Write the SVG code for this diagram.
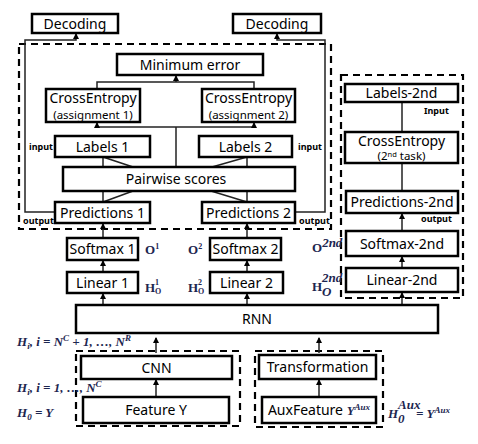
<svg xmlns="http://www.w3.org/2000/svg" width="478" height="444" viewBox="0 0 478 444">
<style>
.box{fill:#fff;stroke:#000;stroke-width:2.5}
.dash{fill:none;stroke:#000;stroke-width:2.2;stroke-dasharray:7,5}
.t{font-family:"Noto Sans","DejaVu Sans",sans-serif;font-size:14px;fill:#000;text-anchor:middle}
.s{font-family:"Noto Sans","DejaVu Sans",sans-serif;font-size:11.5px;fill:#000;text-anchor:middle}
.lbl{font-family:"Noto Sans","DejaVu Sans",sans-serif;font-size:9px;font-weight:bold;fill:#000}
.m{font-family:"Liberation Serif","DejaVu Serif",serif;font-size:13px;font-weight:bold;fill:#1d2650}
.mi{font-family:"Liberation Serif","DejaVu Serif",serif;font-size:13px;font-weight:bold;font-style:italic;fill:#1d2650}
.sm{font-size:8px}
.ln{fill:none;stroke:#222;stroke-width:1.5}
.ar{fill:none;stroke:#222;stroke-width:1.5;marker-end:url(#ah)}
</style>
<defs>
<marker id="ah" markerWidth="6" markerHeight="6" refX="5" refY="3" orient="auto" markerUnits="userSpaceOnUse">
<path d="M0,0 L6,3 L0,6 z" fill="#000"/>
</marker>
</defs>

<g id="groups">
<rect class="dash" x="19" y="44" width="312" height="185"/>
<rect class="dash" x="341" y="75" width="122" height="223"/>
<rect class="dash" x="76" y="351" width="164" height="75"/>
<rect class="dash" x="255" y="351" width="128" height="76"/>
</g>

<g id="connectors">
<path class="ar" d="M55,212 H25 V40 H76 V34"/>
<path class="ar" d="M295,212 H325 V40 H277 V34"/>
<path class="ln" d="M97,89 V82 H254 V89"/>
<path class="ar" d="M176,82 V76"/>
<path class="ln" d="M176,167 V127"/>
<path class="ln" d="M97,127 H254"/>
<path class="ar" d="M97,127 V123"/>
<path class="ar" d="M254,127 V123"/>
<path class="ln" d="M103,157 V202"/>
<path class="ln" d="M247,157 V202"/>
<path class="ln" d="M103,157 L133,167"/>
<path class="ln" d="M133,191 L103,202"/>
<path class="ln" d="M247,157 L212,167"/>
<path class="ln" d="M211,191 L247,202"/>
<path class="ar" d="M103,238 V224"/>
<path class="ar" d="M103,272 V261"/>
<path class="ar" d="M103,305 V294"/>
<path class="ar" d="M247,238 V224"/>
<path class="ar" d="M247,272 V261"/>
<path class="ar" d="M247,305 V294"/>
<path class="ln" d="M402,102 V132"/>
<path class="ln" d="M402,163 V191"/>
<path class="ar" d="M402,231 V214"/>
<path class="ar" d="M402,268 V257"/>
<path class="ar" d="M402,305 V293"/>
<path class="ar" d="M156,397 V380"/>
<path class="ar" d="M156,353 V338"/>
<path class="ar" d="M319,397 V380"/>
<path class="ar" d="M319,353 V338"/>
</g>

<g id="decoding1"><rect class="box" x="32" y="14" width="86" height="19"/><text class="t" x="75" y="28.5">Decoding</text></g>
<g id="decoding2"><rect class="box" x="233" y="14" width="88" height="19"/><text class="t" x="277" y="28.5">Decoding</text></g>
<g id="minerror"><rect class="box" x="117" y="54" width="146" height="21"/><text class="t" x="190" y="69.5">Minimum error</text></g>
<g id="ce1"><rect class="box" x="46" y="89" width="94" height="33"/><text class="t" x="93" y="102.5">CrossEntropy</text><text class="s" x="93" y="118.5">(assignment 1)</text></g>
<g id="ce2"><rect class="box" x="202" y="89" width="93" height="33"/><text class="t" x="248.5" y="102.5">CrossEntropy</text><text class="s" x="248.5" y="118.5">(assignment 2)</text></g>
<g id="labels1"><rect class="box" x="55" y="136" width="95" height="21"/><text class="t" x="102.5" y="151.5">Labels 1</text></g>
<g id="labels2"><rect class="box" x="199" y="136" width="93" height="21"/><text class="t" x="245.5" y="151.5">Labels 2</text></g>
<g id="pairwise"><rect class="box" x="63" y="167" width="232" height="24"/><text class="t" x="176" y="184">Pairwise scores</text></g>
<g id="pred1"><rect class="box" x="55" y="202" width="95" height="21"/><text class="t" x="102.5" y="217.5">Predictions 1</text></g>
<g id="pred2"><rect class="box" x="202" y="202" width="93" height="21"/><text class="t" x="248.5" y="217.5">Predictions 2</text></g>
<g id="softmax1"><rect class="box" x="67" y="238" width="71" height="22"/><text class="t" x="102.5" y="254">Softmax 1</text></g>
<g id="linear1"><rect class="box" x="67" y="272" width="71" height="21"/><text class="t" x="102.5" y="287.5">Linear 1</text></g>
<g id="softmax2"><rect class="box" x="210" y="238" width="71" height="22"/><text class="t" x="245.5" y="254">Softmax 2</text></g>
<g id="linear2"><rect class="box" x="210" y="272" width="73" height="21"/><text class="t" x="246.5" y="287.5">Linear 2</text></g>
<g id="rnn"><rect class="box" x="76" y="305" width="362" height="28"/><text class="t" x="257" y="324">RNN</text></g>
<g id="labels2nd"><rect class="box" x="345" y="84" width="113" height="18"/><text class="t" x="401.5" y="98">Labels-2nd</text></g>
<g id="ce2nd"><rect class="box" x="345" y="132" width="113" height="31"/><text class="t" x="401.5" y="145.5">CrossEntropy</text><text class="s" x="401.5" y="160">(2<tspan font-size="7.5" dy="-3.5">nd</tspan><tspan dy="3.5"> task)</tspan></text></g>
<g id="pred2nd"><rect class="box" x="346" y="191" width="112" height="22"/><text class="t" x="402" y="207">Predictions-2nd</text></g>
<g id="softmax2nd"><rect class="box" x="346" y="231" width="112" height="25"/><text class="t" x="402" y="248.5">Softmax-2nd</text></g>
<g id="linear2nd"><rect class="box" x="346" y="268" width="112" height="24"/><text class="t" x="402" y="285">Linear-2nd</text></g>
<g id="cnn"><rect class="box" x="81" y="356" width="151" height="23"/><text class="t" x="156.5" y="372.5">CNN</text></g>
<g id="featurey"><rect class="box" x="83" y="397" width="146" height="26"/><text class="t" x="156" y="415">Feature Y</text></g>
<g id="transformation"><rect class="box" x="259" y="355" width="117" height="24"/><text class="t" x="317.5" y="372">Transformation</text></g>
<g id="auxfeature"><rect class="box" x="262" y="397" width="114" height="26"/><text class="t" x="319" y="415">AuxFeature <tspan class="mi" font-size="14">Y<tspan font-size="9" dy="-5">Aux</tspan></tspan></text></g>

<g id="annotations">
<text class="lbl" x="29" y="150">input</text>
<text class="lbl" x="298" y="150">input</text>
<text class="lbl" x="23" y="224">output</text>
<text class="lbl" x="299" y="224">output</text>
<text class="lbl" x="424" y="114">Input</text>
<text class="lbl" x="421" y="222">output</text>
<text class="m" x="145" y="254">O<tspan class="sm" dy="-5">1</tspan></text>
<text class="m" x="188" y="254">O<tspan class="sm" dy="-5">2</tspan></text>
<text class="m" x="312" y="252">O<tspan class="mi" font-size="9" dy="-5">2nd</tspan></text>
<text class="m" x="145" y="292">H</text><text class="m sm" x="155" y="285">1</text><text class="m sm" x="155" y="294">O</text>
<text class="m" x="188" y="292">H</text><text class="m sm" x="198" y="285">2</text><text class="m sm" x="198" y="294">O</text>
<text class="m" x="312" y="291">H</text><text class="mi" font-size="9" x="322" y="282">2nd</text><text class="mi" font-size="9" x="322" y="296">O</text>
<text class="mi" x="17" y="346">H<tspan font-size="9" dy="3">i</tspan><tspan dy="-3">, i = N</tspan><tspan font-size="9" dy="-5">C</tspan><tspan dy="5"> + 1, …, N</tspan><tspan font-size="9" dy="-5">R</tspan></text>
<text class="mi" x="17" y="392">H<tspan font-size="9" dy="3">i</tspan><tspan dy="-3">, i = 1, …, N</tspan><tspan font-size="9" dy="-5">C</tspan></text>
<text class="mi" x="17" y="417">H<tspan font-size="9" dy="3">0</tspan><tspan dy="-3"> = Y</tspan></text>
<text class="mi" x="388" y="418">H</text><text class="mi" font-size="9" x="398" y="409">Aux</text><text class="mi" font-size="9" x="398" y="423">0</text><text class="mi" x="416" y="418">= Y<tspan font-size="9" dy="-5">Aux</tspan></text>
</g>
</svg>
